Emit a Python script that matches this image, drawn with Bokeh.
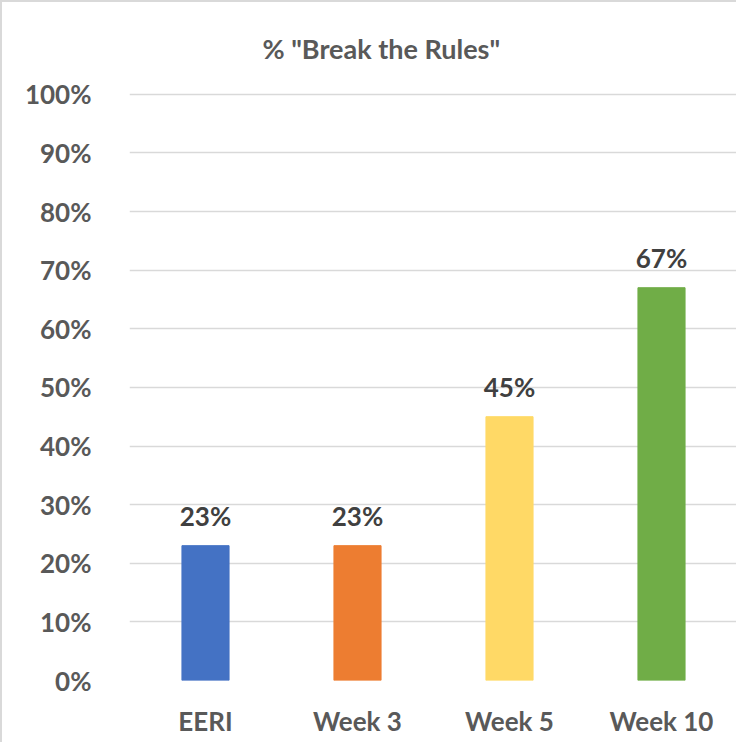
from bokeh.plotting import figure
from bokeh.models import ColumnDataSource, NumeralTickFormatter, FixedTicker
from bokeh.core.properties import value
from bokeh.embed import file_html
from bokeh.resources import INLINE

categories = ["EERI", "Week 3", "Week 5", "Week 10"]
values = [0.23, 0.23, 0.45, 0.67]
labels = ["23%", "23%", "45%", "67%"]
colors = ["#4472C4", "#ED7D31", "#FFD966", "#70AD47"]
y_ticks = [0, 0.1, 0.2, 0.3, 0.4, 0.5, 0.6, 0.7, 0.8, 0.9, 1.0]
title_text = '% "Break the Rules"'

FONT = "Lato"
src = ColumnDataSource(dict(cat=categories, val=values, lab=labels, col=colors))

p = figure(x_range=categories, y_range=(0, 1.003), width=736, height=742,
           output_backend="svg", toolbar_location=None,
           min_border_left=127, min_border_right=1, min_border_top=89, min_border_bottom=64)

p.vbar(x="cat", top="val", width=0.31, color="col", source=src)
p.text(x="cat", y="val", text="lab", source=src, text_align="center",
       text_baseline="bottom", y_offset=-14, text_font=value(FONT),
       text_font_style="bold", text_font_size="26px", text_color="#404040")

p.title.text = title_text
p.title.text_font = FONT
p.title.text_font_size = "27px"
p.title.text_font_style = "bold"
p.title.text_color = "#595959"
p.title.align = "left"
p.title.offset = 133
p.title.standoff = 55

p.yaxis.ticker = FixedTicker(ticks=y_ticks)
p.yaxis.formatter = NumeralTickFormatter(format="0%")
for ax in (p.xaxis, p.yaxis):
    ax.axis_line_color = None
    ax.major_tick_line_color = None
    ax.minor_tick_line_color = None
    ax.major_label_text_font = FONT
    ax.major_label_text_font_style = "bold"
    ax.major_label_text_font_size = "26px"
    ax.major_label_text_color = "#595959"
p.yaxis.major_label_standoff = 32
p.xaxis.major_label_standoff = 18

p.xgrid.grid_line_color = None
p.ygrid.grid_line_color = "#D9D9D9"
p.ygrid.grid_line_width = 1.5
p.outline_line_color = None
p.background_fill_color = "white"
p.border_fill_color = "white"
p.styles = {"border-left": "2px solid #D9D9D9", "border-top": "2px solid #D9D9D9"}

open("out.html", "w").write(file_html(p, INLINE))
